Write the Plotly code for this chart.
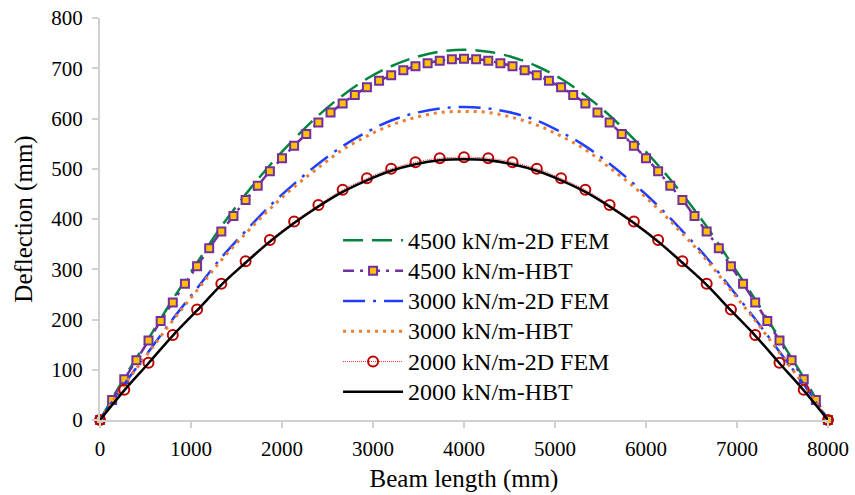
import plotly.graph_objects as go

# Beam positions (mm)
x31 = [0, 266.7, 533.3, 800, 1066.7, 1333.3, 1600, 1866.7, 2133.3, 2400, 2666.7,
       2933.3, 3200, 3466.7, 3733.3, 4000, 4266.7, 4533.3, 4800, 5066.7, 5333.3,
       5600, 5866.7, 6133.3, 6400, 6666.7, 6933.3, 7200, 7466.7, 7733.3, 8000]
x61 = [0, 133.3, 266.7, 400, 533.3, 666.7, 800, 933.3, 1066.7, 1200, 1333.3,
       1466.7, 1600, 1733.3, 1866.7, 2000, 2133.3, 2266.7, 2400, 2533.3, 2666.7,
       2800, 2933.3, 3066.7, 3200, 3333.3, 3466.7, 3600, 3733.3, 3866.7, 4000,
       4133.3, 4266.7, 4400, 4533.3, 4666.7, 4800, 4933.3, 5066.7, 5200, 5333.3,
       5466.7, 5600, 5733.3, 5866.7, 6000, 6133.3, 6266.7, 6400, 6533.3, 6666.7,
       6800, 6933.3, 7066.7, 7200, 7333.3, 7466.7, 7600, 7733.3, 7866.7, 8000]

# Deflections (mm)
fem_4500 = [0, 84, 162, 240, 313, 385, 449, 507, 559, 606, 646, 679, 704, 722, 733, 737,
            733, 722, 704, 679, 646, 606, 559, 507, 449, 385, 313, 240, 162, 84, 0]
hbt_4500 = [0, 40, 81, 119, 158, 197, 234, 271, 306, 342, 375, 406, 438, 466, 495, 521,
            546, 569, 592, 612, 630, 647, 662, 675, 686, 696, 704, 710, 715, 718, 719,
            718, 715, 710, 704, 696, 686, 675, 662, 647, 630, 612, 592, 569, 546, 521,
            495, 466, 438, 406, 375, 342, 306, 271, 234, 197, 158, 119, 81, 40, 0]
fem_3000 = [0, 71, 136, 201, 262, 323, 376, 426, 470, 510, 545, 573, 596, 611, 620, 623,
            620, 611, 596, 573, 545, 510, 470, 426, 376, 323, 262, 201, 136, 71, 0]
hbt_3000 = [0, 70, 134, 198, 258, 318, 371, 420, 464, 502, 538, 565, 587, 602, 612, 614,
            612, 602, 587, 565, 538, 502, 464, 420, 371, 318, 258, 198, 134, 70, 0]
fem_2000 = [0, 60, 114, 169, 220, 271, 316, 358, 395, 428, 458, 481, 500, 513, 521, 523,
            521, 513, 500, 481, 458, 428, 395, 358, 316, 271, 220, 169, 114, 60, 0]
hbt_2000 = [0, 59, 113, 168, 218, 269, 313, 355, 392, 425, 454, 477, 496, 509, 517, 519,
            517, 509, 496, 477, 454, 425, 392, 355, 313, 269, 218, 168, 113, 59, 0]

names = ["4500 kN/m-2D FEM", "4500 kN/m-HBT", "3000 kN/m-2D FEM",
         "3000 kN/m-HBT", "2000 kN/m-2D FEM", "2000 kN/m-HBT"]

x_ticks = [0, 1000, 2000, 3000, 4000, 5000, 6000, 7000, 8000]
y_ticks = [0, 100, 200, 300, 400, 500, 600, 700, 800]

FONT = "Liberation Serif"


def lg(name):
    return '<span style="font-size:24px">' + name + '</span>'


fig = go.Figure()
fig.add_trace(go.Scatter(x=x31, y=fem_4500, name=lg(names[0]), mode="lines",
                         line=dict(color="#00853E", width=2.5, dash="20px,9px", shape="spline"),
                         cliponaxis=False))
fig.add_trace(go.Scatter(x=x61, y=hbt_4500, name=lg(names[1]), mode="lines+markers",
                         line=dict(color="#7030A0", width=2.5, dash="11px,6px,3px,6px", shape="spline"),
                         marker=dict(symbol="square", size=8, color="#FFC000",
                                     line=dict(color="#7030A0", width=2)),
                         cliponaxis=False))
fig.add_trace(go.Scatter(x=x31, y=fem_3000, name=lg(names[2]), mode="lines",
                         line=dict(color="#1F3FFF", width=2.5, dash="22px,8px,3px,8px", shape="spline"),
                         cliponaxis=False))
fig.add_trace(go.Scatter(x=x31, y=hbt_3000, name=lg(names[3]), mode="lines",
                         line=dict(color="#ED7D31", width=3, dash="3px,5px", shape="spline"),
                         cliponaxis=False))
fig.add_trace(go.Scatter(x=x31, y=fem_2000, name=lg(names[4]), mode="lines+markers",
                         line=dict(color="#E03030", width=1, dash="1px,1px", shape="spline"),
                         marker=dict(symbol="circle-open", size=10, color="#C00000",
                                     line=dict(color="#C00000", width=2)),
                         cliponaxis=False))
fig.add_trace(go.Scatter(x=x31, y=hbt_2000, name=lg(names[5]), mode="lines",
                         line=dict(color="#000000", width=2.5, shape="spline"),
                         cliponaxis=False))

axis_common = dict(showgrid=False, zeroline=False, showline=True, linecolor="#D0D0D0",
                   linewidth=2, ticks="outside", tickcolor="#D0D0D0", ticklen=6, tickwidth=2,
                   automargin=False,
                   tickfont=dict(family=FONT, size=21, color="#000000"))

fig.update_layout(
    width=855, height=495,
    margin=dict(l=100, r=27, t=18, b=75),
    paper_bgcolor="white", plot_bgcolor="white",
    font=dict(family=FONT, size=21, color="#000000"),
    xaxis=dict(range=[0, 8000], tickvals=x_ticks, ticktext=[str(v) for v in x_ticks],
               ticklabelstandoff=3,
               title=dict(text="Beam length (mm)", font=dict(family=FONT, size=25), standoff=9),
               **axis_common),
    yaxis=dict(range=[0, 800], tickvals=y_ticks, ticktext=[str(v) for v in y_ticks],
               ticklabelstandoff=5,
               title=dict(text="Deflection (mm)", font=dict(family=FONT, size=25), standoff=12),
               **axis_common),
    legend=dict(x=0.327, y=0.497, xanchor="left", yanchor="top",
                bgcolor="rgba(255,255,255,0)", font=dict(family=FONT, size=21),
                itemwidth=60, tracegroupgap=0),
    showlegend=True,
)

fig.write_html("out.html")
